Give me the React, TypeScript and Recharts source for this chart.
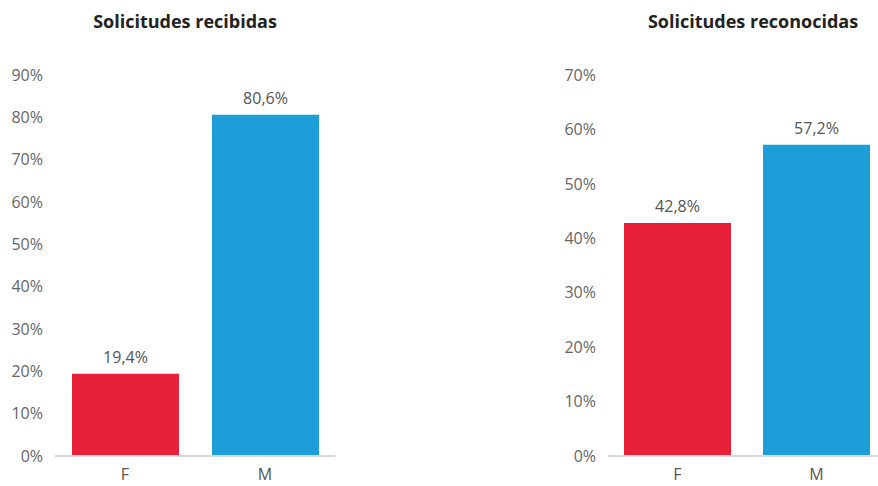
import { Bar, BarChart, Cell, LabelList, XAxis, YAxis } from "recharts";

const categories = ["F", "M"];
const recibidas = [19.4, 80.6];
const reconocidas = [42.8, 57.2];
const recibidasTicks = [0, 10, 20, 30, 40, 50, 60, 70, 80, 90];
const reconocidasTicks = [0, 10, 20, 30, 40, 50, 60, 70];

const COLORS = ["#E8213B", "#1E9ED8"];
const FONT = "'Open Sans', Lato, sans-serif";

const pct = (v: number) => `${v}%`;
const pctLabel = (v: number) => `${String(v).replace(".", ",")}%`;

function Panel({
  title,
  values,
  ticks,
  left,
  width,
  titleX,
}: {
  title: string;
  values: number[];
  ticks: number[];
  left: number;
  width: number;
  titleX: number;
}) {
  const data = categories.map((c, i) => ({ name: c, value: values[i] }));
  const max = ticks[ticks.length - 1];
  return (
    <>
      <div
        style={{
          position: "absolute",
          left: titleX - 150,
          width: 300,
          top: 9,
          textAlign: "center",
          fontFamily: FONT,
          fontWeight: 700,
          fontSize: 18,
          color: "#222",
        }}
      >
        {title}
      </div>
      <div style={{ position: "absolute", left, top: 0 }}>
        <BarChart width={width} height={486} data={data} margin={{ top: 75, right: 5, bottom: 0, left: 0 }}>
          <XAxis
            dataKey="name"
            height={30}
            tickLine={false}
            tickSize={0}
            tickMargin={13}
            axisLine={{ stroke: "#d9d9d9", strokeWidth: 2 }}
            tick={{ fill: "#555", fontSize: 16, fontFamily: FONT }}
          />
          <YAxis
            width={55}
            domain={[0, max]}
            ticks={ticks}
            tickFormatter={pct}
            axisLine={false}
            tickLine={false}
            tickSize={0}
            tickMargin={12}
            tick={{ fill: "#666", fontSize: 16, fontFamily: FONT }}
          />
          <Bar dataKey="value" barSize={107} isAnimationActive={false}>
            {data.map((_, i) => (
              <Cell key={i} fill={COLORS[i]} />
            ))}
            <LabelList
              dataKey="value"
              position="top"
              offset={11}
              formatter={pctLabel}
              style={{ fill: "#555", fontSize: 16, fontFamily: FONT }}
            />
          </Bar>
        </BarChart>
      </div>
    </>
  );
}

export default function App() {
  return (
    <div
      style={{
        position: "absolute",
        left: 0,
        top: 0,
        width: 878,
        height: 486,
        overflow: "hidden",
        background: "#fff",
      }}
    >
      <Panel title="Solicitudes recibidas" values={recibidas} ticks={recibidasTicks} left={0} width={340} titleX={185} />
      <Panel
        title="Solicitudes reconocidas"
        values={reconocidas}
        ticks={reconocidasTicks}
        left={553}
        width={338}
        titleX={753}
      />
    </div>
  );
}
